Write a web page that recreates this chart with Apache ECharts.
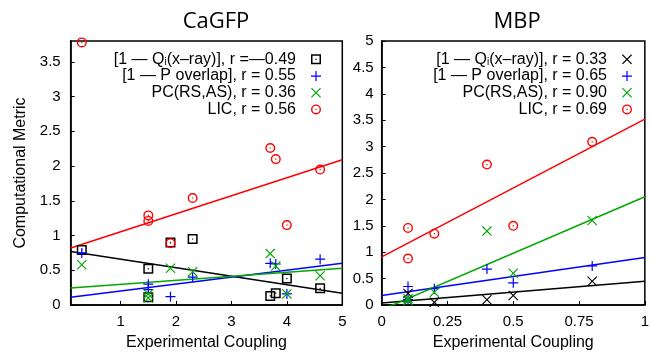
<!DOCTYPE html>
<html>
<head>
<meta charset="utf-8">
<script src="https://cdn.jsdelivr.net/npm/echarts@6/dist/echarts.min.js"></script>
<style>
  html, body { margin: 0; padding: 0; background: #fff; }
  #chart { width: 652px; height: 356px; }
</style>
</head>
<body>
<div id="chart"></div>
<script>
// CaGFP panel
const cagfpX = [0.3, 1.5, 1.5, 1.9, 2.3, 3.7, 3.8, 4.0, 4.6]
const cagfpQ = [0.79, 0.52, 0.11, 0.90, 0.95, 0.13, 0.17, 0.38, 0.24]
const cagfpP = [0.75, 0.30, 0.22, 0.12, 0.40, 0.60, 0.59, 0.16, 0.66]
const cagfpPC = [0.58, 0.16, 0.10, 0.53, 0.48, 0.74, 0.56, 0.16, 0.42]
const cagfpLIC = [3.78, 1.29, 1.21, 0.89, 1.54, 2.26, 2.10, 1.15, 1.95]
// fit lines (end points)
const cagfpFitX = [0.1, 5]
const cagfpFitQ = [0.77, 0.17]
const cagfpFitP = [0.11, 0.60]
const cagfpFitPC = [0.245, 0.53]
const cagfpFitLIC = [0.82, 2.09]
const cagfpXTicks = [1, 2, 3, 4, 5]
const cagfpYTicks = [0, 0.5, 1, 1.5, 2, 2.5, 3, 3.5]

// MBP panel
const mbpX = [0.1, 0.1, 0.2, 0.4, 0.5, 0.8]
const mbpQ = [0.22, 0.08, 0.05, 0.10, 0.18, 0.45]
const mbpP = [0.35, 0.10, 0.31, 0.68, 0.42, 0.74]
const mbpPC = [0.12, 0.08, 0.24, 1.40, 0.60, 1.60]
const mbpLIC = [1.46, 0.88, 1.35, 2.66, 1.50, 3.09]
const mbpFitX = [0, 1]
const mbpFitQ = [0.04, 0.45]
const mbpFitP = [0.18, 0.90]
const mbpFitPC = [-0.09, 2.05]
const mbpFitLIC = [0.91, 3.52]

const cagfpNames = ['cq', 'cp', 'cpc', 'clic']
const cagfpLabels = ['[1 \u2014 Q{s|i}(x\u2013ray)], r =\u20140.49', '[1 \u2014 P overlap], r = 0.55', 'PC(RS,AS), r = 0.36', 'LIC, r = 0.56']
const mbpNames = ['mq', 'mp', 'mpc', 'mlic']
const mbpLabels = ['[1 \u2014 Q{s|i}(x\u2013ray)], r = 0.33', '[1 \u2014 P overlap], r = 0.65', 'PC(RS,AS), r = 0.90', 'LIC, r = 0.69']

const RED = '#ff0000'
const BLUE = '#0000ff'
const GREEN = '#00a800'
const BLACK = '#000000'

// symbols
const SQUARE = 'path://M0,0 H10 V10 H0 Z M1.5,1.5 V8.5 H8.5 V1.5 Z M4.4,4.4 H5.6 V5.6 H4.4 Z'
const PLUS = 'path://M4.4,0 H5.6 V4.4 H10 V5.6 H5.6 V10 H4.4 V5.6 H0 V4.4 H4.4 Z'
const CROSS = 'path://M0,0.8 L0.8,0 L5,4.2 L9.2,0 L10,0.8 L5.8,5 L10,9.2 L9.2,10 L5,5.8 L0.8,10 L0,9.2 L4.2,5 Z'
const RING = 'path://M5,0 A5,5 0 1,1 5,10 A5,5 0 1,1 5,0 Z M5,1.4 A3.6,3.6 0 1,0 5,8.6 A3.6,3.6 0 1,0 5,1.4 Z M4.4,4.4 H5.6 V5.6 H4.4 Z'

const font = 'Liberation Sans'

function pts(xs, ys) {
  return xs.map((x, i) => [x, ys[i]])
}

function scatter(name, idx, xs, ys, symbol, color) {
  return {
    name: name,
    type: 'scatter',
    xAxisIndex: idx,
    yAxisIndex: idx,
    symbol: symbol,
    symbolSize: 10,
    itemStyle: { color: color, opacity: 1 },
    z: 3,
    data: pts(xs, ys)
  }
}

function fit(idx, xs, ys, color) {
  return {
    type: 'line',
    xAxisIndex: idx,
    yAxisIndex: idx,
    symbol: 'none',
    lineStyle: { color: color, width: 1.5 },
    z: 2,
    silent: true,
    data: pts(xs, ys)
  }
}

function legend(names, labels, right) {
  return {
    orient: 'vertical',
    align: 'right',
    right: right,
    top: 51,
    padding: 0,
    itemWidth: 10,
    itemHeight: 10,
    itemGap: 0,
    selectedMode: false,
    data: names,
    formatter: function (n) {
      return labels[names.indexOf(n)]
    },
    textStyle: {
      fontFamily: font,
      fontSize: 16,
      color: '#000',
      lineHeight: 16.7,
      padding: [0, 10, 0, 0],
      rich: {
        s: { fontFamily: font, fontSize: 10, lineHeight: 10, verticalAlign: 'bottom', color: '#000' }
      }
    }
  }
}

const axisCommon = {
  axisLine: { show: true, onZero: false, lineStyle: { color: '#000', width: 1.5 } },
  axisTick: { show: true, inside: true, length: 4, lineStyle: { color: '#000', width: 1 } },
  splitLine: { show: false }
}

const chart = echarts.init(document.getElementById('chart'), null, { renderer: 'canvas' })

const option = {
  backgroundColor: '#fff',
  animation: false,
  title: [
    { text: 'CaGFP', left: 211, top: 6, textAlign: 'center',
      textStyle: { fontFamily: 'Open Sans', fontSize: 22, fontWeight: 'normal', color: '#000' } },
    { text: 'MBP', left: 512, top: 6, textAlign: 'center',
      textStyle: { fontFamily: 'Open Sans', fontSize: 22, fontWeight: 'normal', color: '#000' } }
  ],
  legend: [legend(cagfpNames, cagfpLabels, 331), legend(mbpNames, mbpLabels, 20)],
  grid: [
    { left: 70.7, right: 309.7, top: 41, bottom: 50, show: true, borderColor: '#000', borderWidth: 1.5 },
    { left: 381.7, right: 1, top: 41, bottom: 50, show: true, borderColor: '#000', borderWidth: 1.5 }
  ],
  xAxis: [
    Object.assign({}, axisCommon, {
      type: 'value', gridIndex: 0, min: 0.1, max: 5,
      name: 'Experimental Coupling', nameLocation: 'middle', nameGap: 30,
      nameTextStyle: { fontFamily: font, fontSize: 16, color: '#000' },
      axisTick: Object.assign({}, axisCommon.axisTick, { customValues: cagfpXTicks }),
      axisLabel: { customValues: cagfpXTicks, fontFamily: font, fontSize: 15, color: '#000', margin: 9 }
    }),
    Object.assign({}, axisCommon, {
      type: 'value', gridIndex: 1, min: 0, max: 1, interval: 0.25,
      name: 'Experimental Coupling', nameLocation: 'middle', nameGap: 30,
      nameTextStyle: { fontFamily: font, fontSize: 16, color: '#000' },
      axisLabel: { fontFamily: font, fontSize: 15, color: '#000', margin: 9 }
    })
  ],
  yAxis: [
    Object.assign({}, axisCommon, {
      type: 'value', gridIndex: 0, min: 0, max: 3.8,
      name: 'Computational Metric', nameLocation: 'middle', nameGap: 42,
      nameTextStyle: { fontFamily: font, fontSize: 16, color: '#000' },
      axisTick: Object.assign({}, axisCommon.axisTick, { customValues: cagfpYTicks }),
      axisLabel: { customValues: cagfpYTicks, fontFamily: font, fontSize: 15, color: '#000', margin: 10 }
    }),
    Object.assign({}, axisCommon, {
      type: 'value', gridIndex: 1, min: 0, max: 5, interval: 0.5,
      axisLabel: { fontFamily: font, fontSize: 15, color: '#000', margin: 8 }
    })
  ],
  series: [
    fit(0, cagfpFitX, cagfpFitQ, BLACK),
    fit(0, cagfpFitX, cagfpFitP, BLUE),
    fit(0, cagfpFitX, cagfpFitPC, GREEN),
    fit(0, cagfpFitX, cagfpFitLIC, RED),
    scatter('cq', 0, cagfpX, cagfpQ, SQUARE, BLACK),
    scatter('cp', 0, cagfpX, cagfpP, PLUS, BLUE),
    scatter('cpc', 0, cagfpX, cagfpPC, CROSS, GREEN),
    scatter('clic', 0, cagfpX, cagfpLIC, RING, RED),
    fit(1, mbpFitX, mbpFitQ, BLACK),
    fit(1, mbpFitX, mbpFitP, BLUE),
    fit(1, mbpFitX, mbpFitPC, GREEN),
    fit(1, mbpFitX, mbpFitLIC, RED),
    scatter('mq', 1, mbpX, mbpQ, CROSS, BLACK),
    scatter('mp', 1, mbpX, mbpP, PLUS, BLUE),
    scatter('mpc', 1, mbpX, mbpPC, CROSS, GREEN),
    scatter('mlic', 1, mbpX, mbpLIC, RING, RED)
  ]
}

chart.setOption(option)
window.addEventListener('resize', function () {
  chart.resize()
})
</script>
</body>
</html>
